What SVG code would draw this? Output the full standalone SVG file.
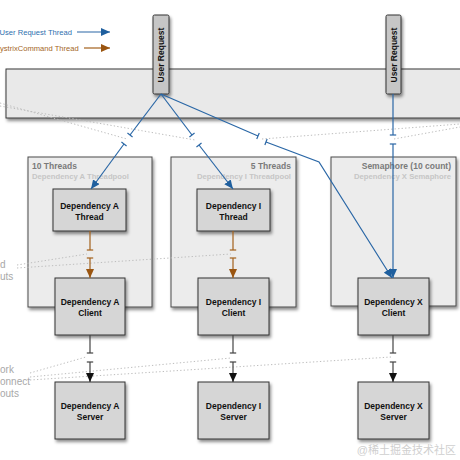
<svg xmlns="http://www.w3.org/2000/svg" width="460" height="460" viewBox="0 0 460 460">
<defs>
<filter id="sh" x="-20%" y="-20%" width="150%" height="150%">
<feDropShadow dx="1.5" dy="2.5" stdDeviation="1.6" flood-color="#000" flood-opacity="0.45"/>
</filter>
<marker id="tb" markerUnits="userSpaceOnUse" markerWidth="10" markerHeight="10" refX="0" refY="0" viewBox="-5 -5 10 10" orient="auto"><path d="M0,-3.2 L0,3.2" stroke="#2a67a6" stroke-width="1.2"/></marker>
<marker id="to" markerUnits="userSpaceOnUse" markerWidth="10" markerHeight="10" refX="0" refY="0" viewBox="-5 -5 10 10" orient="auto"><path d="M0,-3.2 L0,3.2" stroke="#a3611c" stroke-width="1.2"/></marker>
<marker id="tk" markerUnits="userSpaceOnUse" markerWidth="10" markerHeight="10" refX="0" refY="0" viewBox="-5 -5 10 10" orient="auto"><path d="M0,-3.2 L0,3.2" stroke="#444" stroke-width="1.2"/></marker>
<marker id="ab" markerUnits="userSpaceOnUse" markerWidth="9" markerHeight="8" refX="9" refY="4" viewBox="0 0 9 8" orient="auto"><path d="M0,0 L9,4 L0,8 z" fill="#1f5f9e"/></marker>
<marker id="ao" markerUnits="userSpaceOnUse" markerWidth="9" markerHeight="8" refX="9" refY="4" viewBox="0 0 9 8" orient="auto"><path d="M0,0 L9,4 L0,8 z" fill="#9a5510"/></marker>
<marker id="ak" markerUnits="userSpaceOnUse" markerWidth="9" markerHeight="8" refX="9" refY="4" viewBox="0 0 9 8" orient="auto"><path d="M0,0 L9,4 L0,8 z" fill="#111"/></marker>
<style>
.bar{fill:#e9e9e9;stroke:#3a3a3a;stroke-width:1;filter:url(#sh)}
.ur{fill:#c6c6c6;stroke:#333;stroke-width:1;filter:url(#sh)}
.cont{fill:#ececec;stroke:#4a4a4a;stroke-width:1;filter:url(#sh)}
.dep{fill:#d6d6d6;stroke:#333;stroke-width:1;filter:url(#sh)}
.t{font-family:"Liberation Sans",Arial,sans-serif;font-weight:bold;font-size:8.5px;fill:#111;text-anchor:middle}
.h{font-family:"Liberation Sans",Arial,sans-serif;font-weight:bold;font-size:8.5px;fill:#7a7a7a}
.s{font-family:"Liberation Sans",Arial,sans-serif;font-weight:bold;font-size:7.7px;fill:#c6c6c6}
.lab{font-family:"Liberation Sans",Arial,sans-serif;font-size:10px;fill:#a8a8a8}
.lg{font-family:"Liberation Sans",Arial,sans-serif;font-size:7.6px}
.blue{stroke:#2a67a6;stroke-width:1.2;fill:none}
.orng{stroke:#a3611c;stroke-width:1.2;fill:none}
.blk{stroke:#444;stroke-width:1.2;fill:none}
.dot{stroke:#bdbdbd;stroke-width:1;stroke-dasharray:1.3 2.2;fill:none}
</style>
</defs>
<rect width="460" height="460" fill="#fff"/>

<g id="legend">
<text class="lg" x="72" y="35" text-anchor="end" fill="#2f6fae">User Request Thread</text>
<line x1="77" y1="32" x2="110" y2="32" class="blue" marker-end="url(#ab)"/>
<text class="lg" x="0" y="51" fill="#a4661f">ystrixCommand Thread</text>
<line x1="84" y1="48" x2="110" y2="48" class="orng" marker-end="url(#ao)"/>
</g>

<g id="request-bar"><rect class="bar" x="6" y="69" width="470" height="49"/></g>

<g id="threadpool-a">
<rect class="cont" x="28" y="157" width="124" height="150"/>
<text class="h" x="32" y="169">10 Threads</text>
<text class="s" x="32" y="179">Dependency A Threadpool</text>
</g>
<g id="threadpool-i">
<rect class="cont" x="171" y="157" width="125" height="150"/>
<text class="h" x="291" y="169" text-anchor="end">5 Threads</text>
<text class="s" x="291" y="179" text-anchor="end">Dependency I Threadpool</text>
</g>
<g id="semaphore-x">
<rect class="cont" x="331" y="157" width="125" height="149"/>
<text class="h" x="451" y="169" text-anchor="end">Semaphore (10 count)</text>
<text class="s" x="451" y="179" text-anchor="end">Dependency X Semaphore</text>
</g>

<g id="user-request-1">
<rect class="ur" x="153" y="15" width="16" height="79" rx="1.5"/>
<text class="t" transform="translate(164,55) rotate(-90)">User Request</text>
</g>
<g id="user-request-2">
<rect class="ur" x="386" y="15" width="15" height="79" rx="1.5"/>
<text class="t" transform="translate(396.5,55) rotate(-90)">User Request</text>
</g>

<g id="dep-a-thread"><rect class="dep" x="53" y="189" width="73" height="42"/>
<text class="t" x="89.5" y="209">Dependency A</text><text class="t" x="89.5" y="219.5">Thread</text></g>
<g id="dep-i-thread"><rect class="dep" x="197" y="189" width="73" height="42"/>
<text class="t" x="233.5" y="209">Dependency I</text><text class="t" x="233.5" y="219.5">Thread</text></g>

<g id="dep-a-client"><rect class="dep" x="55" y="278" width="70" height="57"/>
<text class="t" x="90" y="305">Dependency A</text><text class="t" x="90" y="315.5">Client</text></g>
<g id="dep-i-client"><rect class="dep" x="198" y="278" width="71" height="57"/>
<text class="t" x="233.5" y="305">Dependency I</text><text class="t" x="233.5" y="315.5">Client</text></g>
<g id="dep-x-client"><rect class="dep" x="358" y="278" width="71" height="57"/>
<text class="t" x="393.5" y="305">Dependency X</text><text class="t" x="393.5" y="315.5">Client</text></g>

<g id="dep-a-server"><rect class="dep" x="55" y="382" width="70" height="57"/>
<text class="t" x="90" y="409">Dependency A</text><text class="t" x="90" y="419.5">Server</text></g>
<g id="dep-i-server"><rect class="dep" x="198" y="382" width="71" height="57"/>
<text class="t" x="233.5" y="409">Dependency I</text><text class="t" x="233.5" y="419.5">Server</text></g>
<g id="dep-x-server"><rect class="dep" x="358" y="382" width="71" height="57"/>
<text class="t" x="393.5" y="409">Dependency X</text><text class="t" x="393.5" y="419.5">Server</text></g>

<g id="timeout-labels">
<text class="lab" x="0" y="267.5">d</text>
<text class="lab" x="0" y="279.5">uts</text>
<text class="lab" x="0" y="372.5">ork</text>
<text class="lab" x="0" y="385">onnect</text>
<text class="lab" x="0" y="397">outs</text>
</g>

<g id="connectors">
<path class="dot" d="M0,103 L127,139"/>
<path class="dot" d="M0,106 L195,140"/>
<path class="dot" d="M262,139 L460,124"/>
<path class="dot" d="M394,139 L460,127"/>
<path class="dot" d="M17,265 L87,254"/>
<path class="dot" d="M17,268 L231,254"/>
<path class="dot" d="M30,373 L86,357"/>
<path class="dot" d="M30,377 L231,358"/>
<path class="dot" d="M30,380 L391,357"/>

<path class="blue" d="M161,94 L130,135" marker-end="url(#tb)"/>
<path class="blue" d="M124,144 L91,189" marker-start="url(#tb)" marker-end="url(#ab)"/>
<path class="blue" d="M161,94 L192,135" marker-end="url(#tb)"/>
<path class="blue" d="M199,145 L233,189" marker-start="url(#tb)" marker-end="url(#ab)"/>
<path class="blue" d="M161,94 L258,136" marker-end="url(#tb)"/>
<path class="blue" d="M266,142 L319,162 L392,278" marker-start="url(#tb)" marker-end="url(#ab)"/>
<path class="blue" d="M393,94 L393,135" marker-end="url(#tb)"/>
<path class="blue" d="M393,144 L393,278" marker-start="url(#tb)" marker-end="url(#ab)"/>

<path class="orng" d="M90,231 L90,250" marker-end="url(#to)"/>
<path class="orng" d="M90,258 L90,278" marker-start="url(#to)" marker-end="url(#ao)"/>
<path class="orng" d="M233,231 L233,250" marker-end="url(#to)"/>
<path class="orng" d="M233,258 L233,278" marker-start="url(#to)" marker-end="url(#ao)"/>

<path class="blk" d="M90,335 L90,353" marker-end="url(#tk)"/>
<path class="blk" d="M90,362 L90,382" marker-start="url(#tk)" marker-end="url(#ak)"/>
<path class="blk" d="M233,335 L233,353" marker-end="url(#tk)"/>
<path class="blk" d="M233,362 L233,382" marker-start="url(#tk)" marker-end="url(#ak)"/>
<path class="blk" d="M393,335 L393,353" marker-end="url(#tk)"/>
<path class="blk" d="M393,362 L393,382" marker-start="url(#tk)" marker-end="url(#ak)"/>
</g>

<text x="456" y="454" text-anchor="end" font-family="'Liberation Sans','Noto Sans CJK SC',sans-serif" font-size="11" fill="#cfcfcf">@稀土掘金技术社区</text>
</svg>
